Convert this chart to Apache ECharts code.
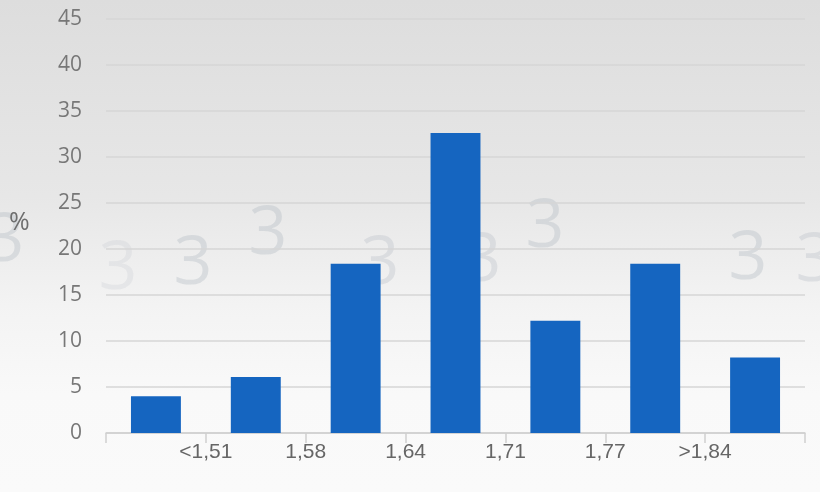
<!DOCTYPE html>
<html>
<head>
<meta charset="utf-8">
<script src="https://cdn.jsdelivr.net/npm/echarts@6/dist/echarts.min.js"></script>
<style>html,body{margin:0;padding:0;}#c{width:820px;height:492px;}</style>
</head>
<body>
<div id="c"></div>
<script>
const categories = ['b1', 'b2', 'b3', 'b4', 'b5', 'b6', 'b7'];
const values = [4.0, 6.1, 18.4, 32.6, 12.2, 18.4, 8.2];
const tickLabels = ['', '<1,51', '1,58', '1,64', '1,71', '1,77', '>1,84', ''];
const yTicks = { min: 0, max: 45, interval: 5 };

const chart = echarts.init(document.getElementById('c'));
const wm = [[5, 242, 0.35], [118, 270, 0.18], [193, 265, 0.35], [268, 235, 0.35], [380, 265, 0.3], [482, 262, 0.3], [545, 228, 0.35], [748, 260, 0.35], [815, 262, 0.3]];
chart.setOption({
  animation: false,
  backgroundColor: new echarts.graphic.LinearGradient(0, 0, 0, 1, [
    { offset: 0, color: '#dddddd' },
    { offset: 0.4, color: '#e7e7e7' },
    { offset: 0.62, color: '#f3f3f3' },
    { offset: 0.8, color: '#f9f9f9' },
    { offset: 1, color: '#fafafa' }
  ]),
  graphic: wm.map(p => ({
    type: 'text', x: p[0], y: p[1], silent: true, z: -10,
    style: { text: '3', font: '500 68px "Open Sans", sans-serif', fill: 'rgba(175,182,192,' + p[2] + ')', textAlign: 'center', textVerticalAlign: 'middle' }
  })).concat([{
    type: 'text', left: 9, top: 210,
    style: { text: '%', font: '25px "Open Sans", sans-serif', fill: '#6e6e6e' }
  }]),
  grid: { left: 106, right: 15, top: 19, bottom: 59 },
  xAxis: [{
    type: 'category', data: categories, boundaryGap: true,
    axisLine: { show: false }, axisTick: { show: false }, axisLabel: { show: false }
  }, {
    type: 'value', min: 0, max: 7, interval: 1, position: 'bottom',
    axisLine: { show: true, lineStyle: { color: '#d0d0d0', width: 1.5 } },
    axisTick: { show: true, length: 10, inside: false, lineStyle: { color: '#d0d0d0', width: 1.5 } },
    splitLine: { show: false },
    axisLabel: {
      formatter: v => tickLabels[v] || '', margin: 9,
      color: '#666', fontSize: 21, fontFamily: '"Liberation Sans", Arial, sans-serif'
    }
  }],
  yAxis: {
    type: 'value', min: yTicks.min, max: yTicks.max, interval: yTicks.interval,
    axisLine: { show: false }, axisTick: { show: false },
    splitLine: { lineStyle: { color: '#d6d6d6', width: 1.5 } },
    axisLabel: { margin: 24, color: '#777', fontSize: 21, fontFamily: '"Open Sans", sans-serif' }
  },
  series: [{
    type: 'bar', xAxisIndex: 0, data: values, barWidth: '50%',
    itemStyle: { color: '#1565c0' }
  }]
});
</script>
</body>
</html>
